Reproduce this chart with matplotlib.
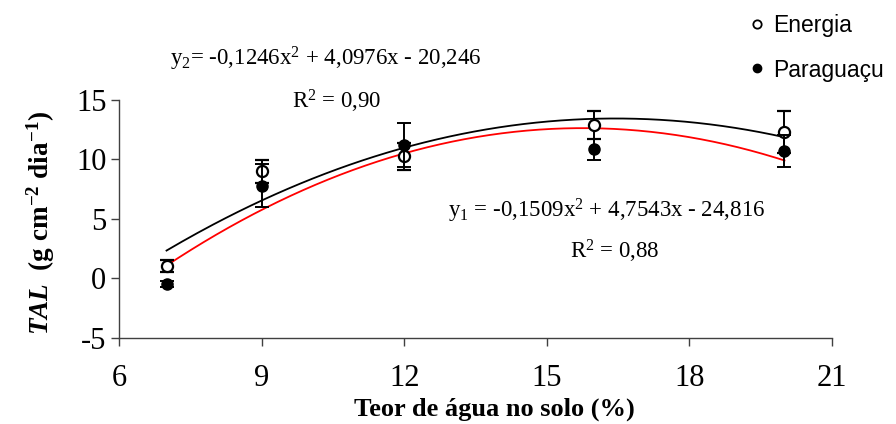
import matplotlib.pyplot as plt
import numpy as np
from matplotlib.lines import Line2D

plt.rcParams['axes.unicode_minus'] = False
plt.rcParams['mathtext.fontset'] = 'custom'
plt.rcParams['mathtext.rm'] = 'Liberation Serif'
plt.rcParams['mathtext.it'] = 'Liberation Serif:italic'
plt.rcParams['mathtext.bf'] = 'Liberation Serif:bold'
plt.rcParams['mathtext.bfit'] = 'Liberation Serif:italic:bold'

# soil water content (%) and TAL per cultivar, with standard errors
teor = [7, 9, 12, 16, 20]
energia = [1.05, 9.0, 10.25, 12.9, 12.3]
energia_err = [0.5, 0.95, 1.15, 1.15, 1.75]
paraguacu = [-0.45, 7.8, 11.25, 10.85, 10.7]
paraguacu_err = [0.25, 1.8, 1.85, 0.9, 1.35]

# quadratic fits: a*x^2 + b*x + c
coef_y2 = [-0.1246, 4.0976, -20.246]   # Energia, R2 = 0.90
coef_y1 = [-0.1509, 4.7543, -24.816]   # Paraguaçu, R2 = 0.88

serif = 'Liberation Serif'

fig = plt.figure(figsize=(8.96, 4.24), dpi=100)
ax = fig.add_axes([0.1328, 0.2035, 0.7958, 0.5607])

xs = np.linspace(teor[0], teor[-1], 200)
ax.plot(xs, np.polyval(coef_y2, xs), color='black', lw=1.3, zorder=2)
ax.plot(xs, np.polyval(coef_y1, xs), color='red', lw=1.3, zorder=2)

ax.errorbar(teor, energia, yerr=energia_err, fmt='o', ms=8, mfc='white',
            mec='black', mew=1.6, ecolor='black', elinewidth=1.4,
            capsize=5, capthick=1.4, zorder=3)
ax.errorbar(teor, paraguacu, yerr=paraguacu_err, fmt='o', ms=8, mfc='black',
            mec='black', ecolor='black', elinewidth=1.4,
            capsize=5, capthick=1.4, zorder=4)

ax.set_xlim(6, 21)
ax.set_ylim(-5, 15)
ax.set_xticks([6, 9, 12, 15, 18, 21])
ax.set_yticks([-5, 0, 5, 10, 15])
for s in ['top', 'right']:
    ax.spines[s].set_visible(False)
for s in ['left', 'bottom']:
    ax.spines[s].set_color('#404040')
    ax.spines[s].set_linewidth(1.0)
ax.tick_params(axis='x', direction='out', length=6, width=1, color='#404040',
               pad=13, labelsize=22)
ax.tick_params(axis='y', direction='out', length=6, width=1, color='#404040',
               pad=3, labelsize=22)
for lab in ax.get_xticklabels() + ax.get_yticklabels():
    lab.set_fontfamily(serif)

fig.text(0.552, 0.006, 'Teor de água no solo (%)', family=serif,
         fontweight='bold', fontsize=19, ha='center', va='bottom')
fig.text(0.045, 0.475, r'$\mathbfit{TAL}$  (g cm$^{\mathbf{-2}}$ dia$^{\mathbf{-1}}$)',
         family=serif, fontweight='bold', fontsize=19.5, rotation=90,
         ha='center', va='center')

# fitted equations
eq_kw = dict(family=serif, fontsize=16.5, clip_on=False)
ax.text(7.07, 18.46, r'y$_2$= -0,1246x$^2$ + 4,0976x - 20,246',
        ha='left', va='center', **eq_kw)
ax.text(10.57, 14.92, r'R$^2$ = 0,90', ha='center', va='center', **eq_kw)
ax.text(12.92, 5.66, r'y$_1$ = -0,1509x$^2$ + 4,7543x - 24,816',
        ha='left', va='center', **eq_kw)
ax.text(16.44, 2.3, r'R$^2$ = 0,88', ha='center', va='center', **eq_kw)

handles = [Line2D([], [], ls='none', marker='o', ms=6, mfc='white',
                  mec='black', mew=1.3),
           Line2D([], [], ls='none', marker='o', ms=6, mfc='black',
                  mec='black')]
fig.legend(handles, ['Energia', 'Paraguaçu'], loc='upper left',
           bbox_to_anchor=(736 / 896, 1.0), frameon=False,
           prop={'family': 'Liberation Sans', 'size': 16.5},
           handlelength=0.6, handletextpad=0.4, labelspacing=0.95,
           borderaxespad=0.2)

fig.savefig('out.png', dpi=100)
